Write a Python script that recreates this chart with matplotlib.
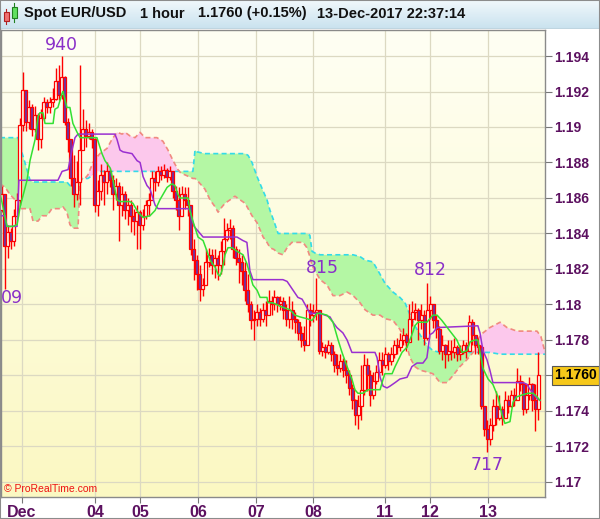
import numpy as np
import matplotlib
matplotlib.use('Agg')
import matplotlib.pyplot as plt
import matplotlib.transforms as mtransforms
from matplotlib.patches import Rectangle

BASE = 1.17  # prices below are in pips above 1.1700

first_open = 153
close_pips = [162, 133, 141, 136, 150, 159, 201, 221, 203, 211,
              199, 207, 193, 205, 214, 211, 214, 216, 226, 218,
              228, 203, 193, 171, 162, 169, 187, 199, 195, 197,
              193, 156, 164, 173, 169, 175, 170, 162, 167, 156,
              162, 153, 156, 150, 147, 152, 145, 150, 156, 159,
              171, 169, 175, 173, 176, 172, 175, 164, 159, 150,
              162, 159, 156, 131, 125, 117, 109, 111, 124, 128,
              122, 126, 122, 130, 137, 142, 143, 131, 126, 124,
              119, 108, 100, 91, 92, 96, 92, 97, 94, 102,
              100, 104, 100, 102, 97, 92, 97, 92, 90, 84,
              80, 77, 97, 94, 96, 97, 74, 76, 73, 77,
              72, 66, 64, 68, 63, 60, 53, 46, 38, 43,
              52, 66, 60, 49, 57, 62, 69, 66, 72, 68,
              72, 77, 76, 80, 83, 79, 92, 96, 97, 91,
              94, 81, 97, 100, 91, 86, 74, 77, 72, 74,
              73, 76, 72, 73, 77, 74, 90, 83, 77, 76,
              43, 30, 24, 32, 43, 36, 41, 36, 46, 43,
              49, 46, 57, 55, 41, 49, 55, 46, 41, 60]
high_pips = [167, 162, 145, 143, 154, 163, 205, 231, 215, 215,
             213, 212, 208, 210, 217, 216, 217, 222, 233, 235,
             240, 229, 205, 193, 184, 181, 235, 210, 204, 202,
             199, 194, 170, 179, 176, 180, 177, 173, 171, 169,
             167, 164, 160, 159, 154, 156, 153, 154, 159, 163,
             175, 175, 178, 178, 179, 177, 178, 175, 167, 166,
             167, 166, 166, 149, 137, 128, 122, 115, 131, 132,
             131, 131, 128, 136, 149, 146, 148, 145, 133, 131,
             128, 124, 117, 102, 97, 100, 98, 101, 102, 108,
             105, 108, 105, 105, 104, 100, 105, 102, 96, 92,
             88, 88, 100, 101, 100, 115, 97, 79, 78, 80,
             79, 74, 72, 72, 70, 69, 63, 55, 47, 49,
             66, 72, 70, 63, 62, 66, 73, 73, 76, 73,
             76, 80, 81, 84, 87, 84, 100, 102, 101, 98,
             100, 97, 112, 105, 100, 94, 88, 83, 78, 80,
             80, 81, 77, 77, 80, 79, 94, 92, 83, 81,
             77, 43, 35, 36, 47, 51, 49, 43, 51, 49,
             52, 53, 64, 60, 57, 55, 59, 56, 55, 73]
low_pips = [152, 109, 126, 131, 133, 150, 156, 198, 198, 199,
            195, 197, 187, 188, 204, 208, 208, 211, 215, 215,
            216, 201, 186, 167, 155, 159, 156, 190, 189, 193,
            188, 152, 150, 159, 156, 162, 166, 153, 159, 136,
            150, 148, 145, 141, 139, 131, 131, 142, 148, 150,
            159, 164, 167, 170, 171, 169, 170, 160, 153, 142,
            150, 154, 150, 128, 114, 108, 102, 105, 114, 121,
            117, 115, 114, 117, 122, 136, 137, 126, 122, 112,
            111, 102, 96, 86, 80, 88, 88, 90, 88, 97,
            94, 97, 96, 97, 92, 88, 87, 86, 84, 80,
            76, 74, 77, 88, 90, 91, 72, 71, 70, 72,
            68, 62, 60, 62, 59, 56, 49, 41, 32, 30,
            35, 49, 51, 43, 47, 55, 62, 60, 64, 63,
            66, 70, 72, 74, 77, 74, 81, 88, 91, 80,
            86, 77, 80, 92, 87, 81, 72, 69, 64, 68,
            69, 70, 68, 69, 72, 70, 77, 77, 72, 72,
            41, 26, 17, 21, 29, 32, 35, 32, 39, 39,
            42, 43, 46, 51, 38, 39, 46, 40, 29, 35]

# ichimoku cloud, read at common bar positions
cloud_x = [-0.5, 1.2, 2.8, 4.5, 5.5, 6.2, 7.8, 9.5, 10.5, 12.2, 13.5, 15.2, 16.8, 19.5, 20.5,
           21.8, 22.8, 23.8, 25.2, 25.5, 26.2, 27.8, 28.8, 30.5, 31.8, 32.8, 35.2, 36.8, 38.5,
           40.2, 41.2, 42.8, 44.5, 46.2, 47.8, 49.5, 51.8, 53.8, 55.5, 57.2, 58.8, 59.8, 61.2,
           63.8, 64.5, 65.2, 67.8, 69.5, 71.2, 72.2, 73.5, 74.5, 76.2, 77.8, 79.5, 81.2, 82.2,
           83.5, 85.2, 87.2, 88.5, 89.5, 90.8, 92.2, 93.8, 95.2, 96.8, 98.8, 100.5, 101.8, 102.8,
           103.5, 104.5, 106.2, 108.5, 110.5, 112.8, 115.2, 117.2, 119.5, 121.2, 123.8, 126.2,
           127.8, 130.5, 132.8, 134.5, 136.2, 137.8, 139.5, 141.8, 143.8, 146.2, 148.5, 150.5,
           152.8, 155.2, 157.2, 158.5, 160.5, 162.8, 166.2, 168.5, 171.8, 175.2, 178.5, 179.8, 181.2]
span_a = [194, 194, 194, 194, 194, 189, 180, 170, 169, 169, 169, 169, 169, 169, 169,
          169, 167, 167, 167, 168, 171, 171, 171, 173, 175, 175, 175, 175, 175,
          175, 175, 175, 175, 175, 175, 175, 175, 175, 175, 175, 175, 175, 175,
          175, 187, 186, 185, 185, 185, 185, 185, 185, 185, 185, 185, 185, 184,
          180, 172, 164, 159, 153, 147, 140, 140, 140, 140, 140, 140, 140, 139,
          130, 129, 128, 128, 128, 128, 128, 128, 127, 125, 124, 117,
          112, 107, 104, 101, 94, 88, 83, 77, 74, 73, 73, 73,
          73, 73, 73, 73, 73, 73, 72, 72, 72, 72, 72, 72, 72]
span_b = [168, 166, 162, 159, 156, 154, 154, 154, 147, 147, 150, 150, 154, 154, 155,
          152, 145, 143, 143, 143, 170, 171, 173, 180, 183, 185, 188, 193, 197,
          196, 197, 195, 194, 197, 194, 194, 194, 192, 187, 181, 176, 174, 173,
          171, 171, 170, 165, 159, 155, 152, 155, 157, 159, 161, 159, 157, 154,
          150, 146, 138, 135, 132, 131, 129, 128, 132, 135, 135, 135, 132, 127,
          122, 119, 114, 111, 105, 105, 107, 105, 101, 97, 94, 94,
          92, 91, 86, 80, 70, 65, 63, 62, 61, 56, 56, 60,
          65, 69, 73, 80, 84, 87, 90, 87, 85, 85, 85, 82, 73]

tenkan_x = [-0.5, 1.8, 3.8, 5.2, 6.2, 8.5, 9.5, 11.2, 12.2, 12.8, 13.8, 14.5, 17.2, 17.8, 18.8,
            20.2, 20.5, 21.8, 22.8, 23.8, 25.2, 26.2, 31.8, 33.5, 34.5, 36.2, 37.2, 38.5, 39.5,
            42.8, 43.8, 45.5, 47.2, 49.5, 51.2, 52.8, 55.2, 56.8, 57.8, 58.8, 59.5, 62.2, 62.8,
            63.8, 65.5, 67.2, 68.5, 69.5, 71.2, 72.2, 72.8, 73.5, 74.5, 75.5, 76.8, 78.5, 80.5,
            81.8, 82.8, 83.8, 85.2, 86.2, 88.5, 88.8, 90.2, 91.8, 92.8, 96.2, 97.8, 99.5, 101.8,
            103.5, 105.2, 106.2, 108.5, 110.5, 112.2, 113.5, 115.2, 116.8, 117.8, 118.8, 120.5,
            122.2, 126.2, 127.2, 127.8, 130.2, 131.2, 133.5, 135.2, 136.8, 137.8, 138.8, 141.8,
            143.8, 145.2, 146.8, 149.5, 151.8, 152.8, 153.5, 155.2, 156.2, 157.8, 158.8, 159.5,
            160.5, 162.2, 163.8, 165.5, 166.8, 167.8, 169.5, 170.5, 171.8, 173.5, 175.5, 177.2,
            178.5, 179.5]
tenkan = [163, 144, 144, 145, 155, 170, 181, 193, 206, 208, 208, 202, 202, 210, 211,
          219, 220, 211, 211, 202, 197, 194, 194, 185, 181, 177, 170, 159, 158,
          158, 157, 152, 149, 150, 153, 159, 166, 168, 167, 162, 160, 160, 153,
          147, 138, 136, 130, 125, 121, 117, 116, 119, 128, 132, 132, 130, 128,
          123, 117, 111, 108, 104, 104, 101, 101, 100, 99, 97, 94, 93, 92,
          91, 95, 95, 94, 90, 80, 73, 65, 58, 52, 50, 50,
          52, 52, 58, 61, 61, 65, 73, 76, 83, 88, 90, 90,
          94, 94, 91, 85, 80, 76, 73, 74, 79, 80, 80, 73,
          64, 58, 55, 48, 38, 33, 34, 45, 48, 49, 50, 50,
          48, 46]

kijun_x = [-0.5, 1.2, 1.8, 5.2, 5.8, 18.8, 20.2, 22.2, 23.5, 24.5, 25.5, 37.8, 38.5, 39.5,
           40.5, 43.5, 45.2, 46.2, 47.2, 48.5, 49.5, 51.2, 52.2, 62.2, 62.8, 63.5, 64.2, 65.2,
           66.2, 67.2, 77.2, 78.5, 80.5, 81.8, 82.8, 83.8, 93.8, 95.2, 97.2, 98.8, 100.2, 101.2,
           102.8, 106.2, 109.5, 110.5, 111.8, 113.8, 115.2, 116.8, 118.5, 124.5, 125.2, 126.2,
           127.2, 128.5, 129.5, 131.2, 132.8, 135.2, 136.8, 138.5, 140.5, 141.8, 142.8, 143.8,
           145.2, 158.8, 159.5, 160.5, 161.8, 162.8, 163.8, 173.8, 175.2, 176.2, 177.2, 178.5,
           179.5]
kijun = [150, 150, 144, 144, 170, 170, 175, 176, 187, 194, 196, 196, 193, 187,
         186, 185, 181, 180, 172, 167, 165, 156, 154, 154, 153, 148, 144, 142,
         140, 138, 138, 138, 136, 135, 119, 114, 114, 113, 108, 104, 103, 100,
         95, 95, 93, 90, 87, 84, 80, 73, 73, 73, 70, 59,
         54, 53, 54, 56, 58, 59, 65, 67, 67, 70, 83, 84,
         87, 88, 84, 74, 69, 63, 56, 56, 55, 52, 50, 47,
         46]

day_pos = [6.8, 31.2, 46.2, 65.5, 84.8, 103.8, 127.8, 142.8, 162.2]
day_labels = ['Dec', '04', '05', '06', '07', '08', '11', '12', '13']
y_ticks = [1.170, 1.172, 1.174, 1.176, 1.178, 1.180, 1.182, 1.184, 1.186, 1.188, 1.190, 1.192, 1.194]
y_labels = ['1.17', '1.172', '1.174', '', '1.178', '1.18', '1.182', '1.184', '1.186',
            '1.188', '1.19', '1.192', '1.194']
# high / low markers (the 1.1809 low shows only its last two digits at the left edge)
marks = [(19.8, 246.2, '940', 'center'), (-0.1, 103.7, '09', 'left'),
         (106.8, 120.6, '815', 'center'), (142.8, 119.4, '812', 'center'),
         (161.8, 9.6, '717', 'center')]
last_price = 1.1760


def px(p):
    return BASE + np.asarray(p, dtype=float) / 10000.0


plt.rcParams['font.family'] = ['Liberation Sans', 'DejaVu Sans']
W, H = 600, 519
fig = plt.figure(figsize=(W / 100, H / 100), dpi=100, facecolor='white')

# ---- main chart
ax = fig.add_axes([1 / W, 22 / H, 544 / W, 467 / H])
ax.set_xlim(-0.17, 181.17)
ax.set_ylim(px(-8.46), px(254.65))

grad = np.linspace(1, 0, 256).reshape(-1, 1)
cmap = matplotlib.colors.LinearSegmentedColormap.from_list('bg', ['#fbf8c2', '#fffff4'])
ax.imshow(grad, extent=[-0.17, 181.17, px(-8.46), px(254.65)], aspect='auto',
          cmap=cmap, origin='upper', zorder=0)

for d in day_pos:
    ax.axvline(d, color='#dcd9c2', lw=0.9, zorder=0.5)
for t in y_ticks:
    ax.axhline(t, color='#dcd9c2', lw=0.9, zorder=0.5)

# cloud
cx = np.array(cloud_x)
a = px(span_a)
b = px(span_b)
ax.fill_between(cx, a, b, where=a >= b, interpolate=True, color='#b4f7a4', lw=0, zorder=1)
ax.fill_between(cx, a, b, where=a < b, interpolate=True, color='#fcc8ec', lw=0, zorder=1)
ax.plot(cx, a, color='#33dbe8', lw=1.2, ls=(0, (3, 2)), zorder=1.5)
ax.plot(cx, b, color='#f08a80', lw=1.2, ls=(0, (3, 2)), zorder=1.5)

# candles
c = np.array(close_pips, dtype=float)
o = np.concatenate([[first_open], c[:-1]])
hi = np.maximum(np.array(high_pips, dtype=float), np.maximum(o, c))
lo = np.minimum(np.array(low_pips, dtype=float), np.minimum(o, c))
xs = np.arange(len(c))
ax.vlines(xs, px(lo), px(hi), color='#ff0000', lw=1.0, zorder=2)
body_lo = np.minimum(o, c)
body_h = np.maximum(np.abs(c - o), 0.6)
face = ['#fffff0' if cc >= oo else '#6a35a8' for oo, cc in zip(o, c)]
ax.bar(xs, body_h / 10000.0, bottom=px(body_lo), width=0.78, color=face,
       edgecolor='#ff0000', linewidth=0.9, zorder=3)

# tenkan / kijun
ax.plot(kijun_x, px(kijun), color='#9a2fd0', lw=1.1, zorder=4)
ax.plot(tenkan_x, px(tenkan), color='#33e033', lw=1.1, zorder=4)

for x, p, s, ha in marks:
    ax.text(x, px(p), s, ha=ha, va='center', fontsize=12.5, color='#8a2fc8',
            family='DejaVu Sans', zorder=5)

ax.text(3 / 544, 8 / 467, '\u00a9 ProRealTime.com', transform=ax.transAxes,
        fontsize=7.5, color='#ee1111', ha='left', va='center', zorder=6)

# axes styling
ax.yaxis.tick_right()
ax.set_yticks(y_ticks)
ax.set_yticklabels(y_labels)
ax.set_xticks(day_pos)
ax.set_xticklabels(day_labels)
ax.tick_params(axis='y', direction='out', length=5, width=0.8, color='#777777', pad=1.5,
               labelsize=10, labelcolor='#5c1160')
ax.tick_params(axis='x', direction='out', length=4, width=0.8, color='#777777', pad=2,
               labelsize=11.5, labelcolor='#5c1160')
for lab in ax.get_yticklabels() + ax.get_xticklabels():
    lab.set_fontweight('bold')
for sp in ax.spines.values():
    sp.set_color('#8a8a8a')
    sp.set_linewidth(1.0)

# last price box
tr = mtransforms.blended_transform_factory(ax.transAxes, ax.transData)
ax.text(553 / 544, last_price, '1.1760', transform=tr, ha='left', va='center',
        fontsize=10, fontweight='bold', color='black', clip_on=False,
        bbox=dict(boxstyle='square,pad=0.18', fc='#f6c81a', ec='#555555', lw=0.8))

# ---- header bar
hax = fig.add_axes([0, 490 / H, 1, 29 / H])
hax.set_xlim(0, W)
hax.set_ylim(29, 0)
hgrad = np.linspace(0, 1, 64).reshape(-1, 1)
hcmap = matplotlib.colors.LinearSegmentedColormap.from_list('hd', ['#f1f8fc', '#c9e2ee'])
hax.imshow(hgrad, extent=[0, W, 29, 0], aspect='auto', cmap=hcmap, zorder=0)
hax.axis('off')
hax.add_patch(Rectangle((3.5, 12), 5, 9, fc='#f07070', ec='#b02020', lw=0.8, zorder=2))
hax.plot([6, 6], [9, 24], color='#b02020', lw=0.8, zorder=1)
hax.add_patch(Rectangle((11.5, 7), 5, 11, fc='#60e060', ec='#208020', lw=0.8, zorder=2))
hax.plot([14, 14], [3, 22], color='#208020', lw=0.8, zorder=1)
hax.plot([0, W], [28.5, 28.5], color='#9aa4aa', lw=1)
head = [(24, 'Spot EUR/USD'), (140, '1 hour'), (198, '1.1760 (+0.15%)'),
        (317, '13-Dec-2017 22:37:14')]
for x, s in head:
    hax.text(x, 13.5, s, fontsize=10.5, fontweight='bold', color='#111111',
             ha='left', va='center')

# outer border
fig.add_artist(Rectangle((0, 0), 1, 1, transform=fig.transFigure, fill=False,
                         ec='#8c8c8c', lw=1.5))

fig.savefig('out.png', dpi=100, facecolor='white')
